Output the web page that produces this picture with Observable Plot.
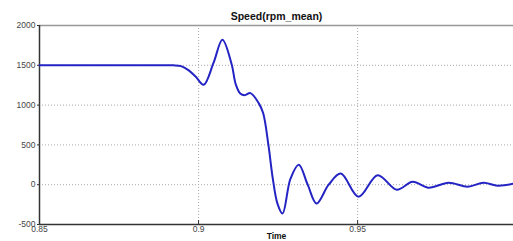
<!DOCTYPE html>
<html><head><meta charset="utf-8">
<script src="https://cdn.jsdelivr.net/npm/d3@7"></script>
<script src="https://cdn.jsdelivr.net/npm/@observablehq/plot@0.6"></script>
<style>body{margin:0;background:#fff;}svg{display:block;}</style>
</head><body><div id="chart"></div>
<script>
const title = "Speed(rpm_mean)";
const xLabel = "Time";
const time = [0.85,0.87,0.885,0.892,0.8945,0.8968,0.899,0.9016,0.9047,0.9075,0.9104,0.9117,0.9131,0.9145,0.9163,0.9189,0.9203,0.922,0.9233,0.9248,0.9264,0.9289,0.9315,0.9343,0.9371,0.9409,0.9447,0.9503,0.9563,0.9623,0.9673,0.9723,0.9786,0.9846,0.9896,0.994,0.999];
const speed = [1500,1500,1500,1500,1490,1440,1362,1255,1530,1820,1512,1260,1145,1125,1150,1025,900,487,87,-237,-362,75,250,0,-237,0,140,-150,120,-62,37,-37,25,-25,25,-12,12];
const xTicks = [0.85,0.9,0.95];
const yTicks = [-500,0,500,1000,1500,2000];

const data = time.map((t,i)=>({t, v: speed[i]}));
const fmtX = d => String(+d.toFixed(2));
const chart = Plot.plot({
  width: 513, height: 241,
  marginLeft: 39, marginRight: 0, marginTop: 25, marginBottom: 17,
  style: {fontFamily: "Liberation Sans, Arial, sans-serif", fontSize: "8.5px", color: "#444", background: "#fff"},
  x: {domain: [0.85, 0.999], label: null},
  y: {domain: [-500, 2000], label: null},
  marks: [
    Plot.gridX(xTicks.slice(1), {stroke: "#aaa", strokeOpacity: 1, strokeDasharray: "1,2"}),
    Plot.gridY(yTicks.slice(1,-1), {stroke: "#aaa", strokeOpacity: 1, strokeDasharray: "1,2"}),
    Plot.ruleY([2000], {stroke: "#999", strokeWidth: 1.5}),
    Plot.ruleY([-500], {stroke: "#333", strokeWidth: 1.5}),
    Plot.ruleX([0.85], {stroke: "#333", strokeWidth: 1.5}),
    Plot.axisX({ticks: xTicks, tickSize: -4, tickFormat: () => "", label: null, stroke: "#333"}),
    Plot.axisX({ticks: xTicks, tickSize: 0, tickPadding: 1, tickFormat: fmtX, label: null}),
    Plot.axisY({ticks: yTicks, tickSize: 2, tickPadding: 2, tickFormat: d => String(d), label: null, stroke: "#333"}),
    Plot.line(data, {x: "t", y: "v", curve: "catmull-rom", stroke: "#2424c4", strokeWidth: 2}),
    Plot.text([title], {frameAnchor: "top", lineAnchor: "middle", dy: -9, fontWeight: "bold", fontSize: 10.5, fill: "#111"}),
    Plot.text([xLabel], {frameAnchor: "bottom", lineAnchor: "middle", dy: 11.5, fontWeight: "bold", fontSize: 8.5, fill: "#111"})
  ]
});
document.getElementById("chart").append(chart);
</script></body></html>
